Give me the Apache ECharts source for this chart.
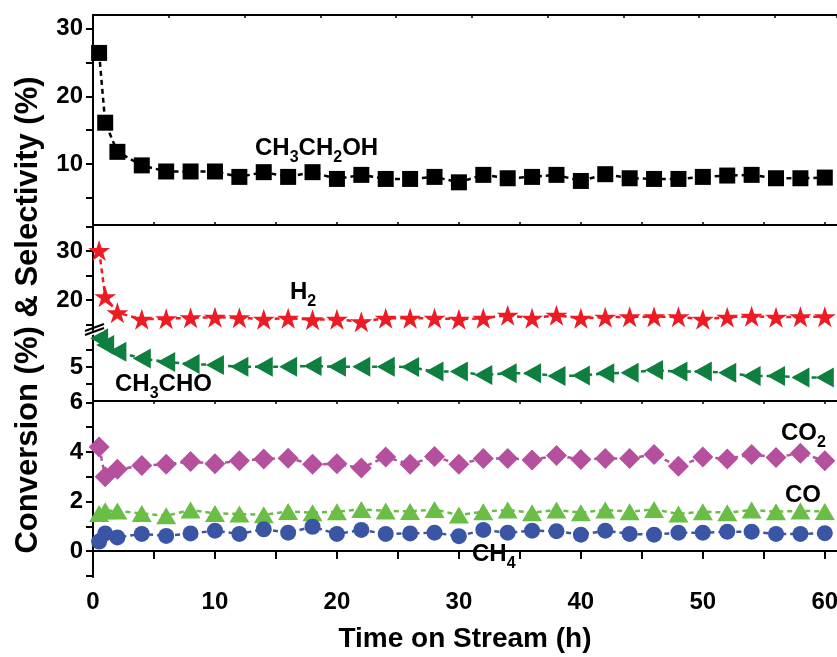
<!DOCTYPE html>
<html><head><meta charset="utf-8">
<script src="https://cdn.jsdelivr.net/npm/echarts@6/dist/echarts.min.js"></script>
<style>html,body{margin:0;padding:0;background:#fff}#c{width:837px;height:657px}</style>
</head><body><div id="c"></div>
<script>
// ---- data ----
const times = [0.5,1,2,4,6,8,10,12,14,16,18,20,22,24,26,28,30,32,34,36,38,40,42,44,46,48,50,52,54,56,58,60];
const ethanol = [26.4,16.1,11.8,9.8,8.9,8.9,8.9,8.1,8.8,8.1,8.8,7.8,8.4,7.8,7.8,8.1,7.3,8.4,7.9,8.1,8.4,7.5,8.5,7.9,7.8,7.8,8.1,8.3,8.4,7.9,7.9,8.0];
const hydrogen = [30.1,20.7,17.4,16.1,16.2,16.4,16.5,16.4,16.1,16.3,16.0,16.1,15.6,16.3,16.3,16.3,16.1,16.3,16.9,16.3,16.9,16.3,16.5,16.6,16.6,16.6,16.1,16.5,16.7,16.5,16.6,16.6];
const acetaldehyde = [6.69,6.29,5.9,5.5,5.3,5.18,5.12,5.02,5.02,5.02,5.06,5.02,5.02,5.02,5.0,4.73,4.73,4.53,4.63,4.63,4.47,4.5,4.63,4.66,4.82,4.73,4.73,4.66,4.47,4.47,4.39,4.39];
const co2 = [4.2,3.0,3.3,3.45,3.5,3.62,3.52,3.65,3.72,3.75,3.5,3.52,3.35,3.8,3.5,3.82,3.5,3.74,3.74,3.68,3.86,3.7,3.74,3.74,3.9,3.42,3.8,3.72,3.9,3.78,3.95,3.65];
const co = [1.52,1.63,1.62,1.52,1.42,1.66,1.52,1.5,1.46,1.6,1.55,1.59,1.68,1.62,1.6,1.68,1.45,1.59,1.66,1.55,1.66,1.55,1.66,1.59,1.68,1.5,1.59,1.55,1.66,1.59,1.62,1.6];
const ch4 = [0.38,0.71,0.55,0.69,0.61,0.71,0.82,0.69,0.88,0.74,0.98,0.69,0.85,0.69,0.71,0.74,0.6,0.85,0.74,0.82,0.8,0.66,0.82,0.69,0.66,0.74,0.74,0.78,0.78,0.69,0.69,0.72];

// ---- ticks / labels ----
const timeTicks = [0,5,10,15,20,25,30,35,40,45,50,55,60];
const timeLabels = [0,10,20,30,40,50,60];
const topTicks = [5,10,15,20,25,30];
const topLabels = [10,20,30];
const h2Ticks = [15,20,25,30,35];
const h2Labels = [20,30];
const aldTicks = [4,5,6];
const aldLabels = [5];
const lowTicks = [-1,0,1,2,3,4,5,6];
const lowLabels = [0,2,4,6];

const FONT = '"Liberation Sans", Arial, sans-serif';
const chart = echarts.init(document.getElementById('c'), null, {renderer:'canvas'});
const LINE = {show:true, lineStyle:{color:'#000', width:2}};
const STAR = 'path://M50,0 L61.2,34.5 L97.6,34.5 L68.2,55.9 L79.4,90.5 L50,69.1 L20.6,90.5 L31.8,55.9 L2.4,34.5 L38.8,34.5 Z';

function yAx(gi, min, max, ticks, labels){
  return {type:'value', gridIndex:gi, min:min, max:max, position:'left',
    axisLine:LINE, splitLine:{show:false},
    axisTick:{show:true, inside:false, length:7, lineStyle:{color:'#000', width:2}, customValues:ticks},
    axisLabel:{show:true, customValues:labels, color:'#000', fontSize:24, fontWeight:'bold', fontFamily:FONT, margin:10}};
}
function xHidden(gi){
  return {type:'value', gridIndex:gi, min:0, max:61, show:false, splitLine:{show:false}};
}
function xBorder(gi, pos, min, max, ticks, interval){
  const a = {type:'value', gridIndex:gi, min:min, max:max, position:pos,
    axisLine:LINE, splitLine:{show:false}, axisLabel:{show:false},
    axisTick:{show:true, inside:true, length:3, lineStyle:{color:'#000', width:1.5}}};
  if (ticks) a.axisTick.customValues = ticks;
  if (interval) a.interval = interval;
  return a;
}
function ser(name, data, xi, yi, color, symbol, size, rotate){
  return {type:'line', name:name, xAxisIndex:xi, yAxisIndex:yi,
    data: times.map((t,i)=>[t, data[i]]),
    symbol:symbol, symbolSize:size, symbolRotate:rotate||0, showSymbol:true, showAllSymbol:true,
    itemStyle:{color:color, borderWidth:0, opacity:1},
    lineStyle:{color:color, width:2.5, type:[5,4]},
    clip:false, silent:true, animation:false};
}

const grids = [
  {left:93, right:0, top:15, height:210, outerBoundsMode:'none'},
  {left:93, right:0, top:225, height:105, outerBoundsMode:'none'},
  {left:93, right:0, top:330, height:71, outerBoundsMode:'none'},
  {left:93, right:0, top:401, height:176, outerBoundsMode:'none'}
];

const bottomAxis = {type:'value', gridIndex:3, min:0, max:61, position:'bottom',
  axisLine:LINE, splitLine:{show:false},
  axisTick:{show:true, inside:false, length:8, lineStyle:{color:'#000', width:2}, customValues:timeTicks},
  axisLabel:{show:true, customValues:timeLabels, color:'#000', fontSize:24, fontWeight:'bold', fontFamily:FONT, margin:13},
  name:'Time on Stream (h)', nameLocation:'middle', nameGap:48,
  nameTextStyle:{color:'#000', fontSize:28, fontWeight:'bold', fontFamily:FONT}};

const rich = {
  m:{fontSize:24, fontWeight:'bold', fontFamily:FONT, fill:'#000', verticalAlign:'middle'},
  s:{fontSize:16, fontWeight:'bold', fontFamily:FONT, fill:'#000', padding:[20,0,0,0], verticalAlign:'middle'}
};
function txt(x, y, t){
  return {type:'text', x:x, y:y, z:100, silent:true,
    style:{text:t, rich:rich, fontSize:24, fontWeight:'bold', fontFamily:FONT, fill:'#000', align:'left', verticalAlign:'middle'}};
}

chart.setOption({
  animation:false,
  backgroundColor:'#fff',
  grid: grids,
  xAxis: [
    xBorder(0, 'bottom', 0, 61, timeTicks),     // 0 line at 225
    xBorder(0, 'top', 0, 49.1, null, 5),        // 1 top border
    xHidden(1),                                 // 2
    xHidden(2),                                 // 3
    bottomAxis,                                 // 4
    xBorder(3, 'top', 0, 61, timeTicks)         // 5 line at 401
  ],
  yAxis: [
    yAx(0, 1, 32, topTicks, topLabels),
    yAx(1, 13.9, 35.3, h2Ticks, h2Labels),
    yAx(2, 3, 7.18, aldTicks, aldLabels),
    yAx(3, -1.05, 6.06, lowTicks, lowLabels)
  ],
  series: [
    ser('CH3CH2OH', ethanol, 0, 0, '#000000', 'rect', 16),
    ser('H2', hydrogen, 2, 1, '#ED1C24', STAR, [22,21]),
    ser('CH3CHO', acetaldehyde, 3, 2, '#0E7F3E', 'triangle', [20,18], 90),
    ser('CO2', co2, 4, 3, '#B5509F', 'diamond', [21,21]),
    ser('CO', co, 4, 3, '#6ABD45', 'triangle', [20,17]),
    ser('CH4', ch4, 4, 3, '#3A55A4', 'circle', 16)
  ],
  graphic: [
    {type:'polygon', z:100, shape:{points:[[84,334],[104,327],[104,331],[84,338]]}, style:{fill:'#fff'}},
    {type:'line', z:101, shape:{x1:85, y1:335, x2:104, y2:328}, style:{stroke:'#000', lineWidth:2}},
    {type:'line', z:101, shape:{x1:85, y1:331, x2:104, y2:324}, style:{stroke:'#000', lineWidth:2}},
    {type:'text', z:100, x:28, y:315, rotation:Math.PI/2,
      style:{text:'Conversion (%) & Selectivity (%)', fontSize:31, fontWeight:'bold', fontFamily:FONT, fill:'#000', align:'center', verticalAlign:'middle'}},
    txt(255, 148, '{m|CH}{s|3}{m|CH}{s|2}{m|OH}'),
    txt(290, 292, '{m|H}{s|2}'),
    txt(115, 384, '{m|CH}{s|3}{m|CHO}'),
    txt(781, 433, '{m|CO}{s|2}'),
    txt(785, 495, '{m|CO}'),
    txt(472, 554, '{m|CH}{s|4}')
  ]
});
</script>
</body></html>
